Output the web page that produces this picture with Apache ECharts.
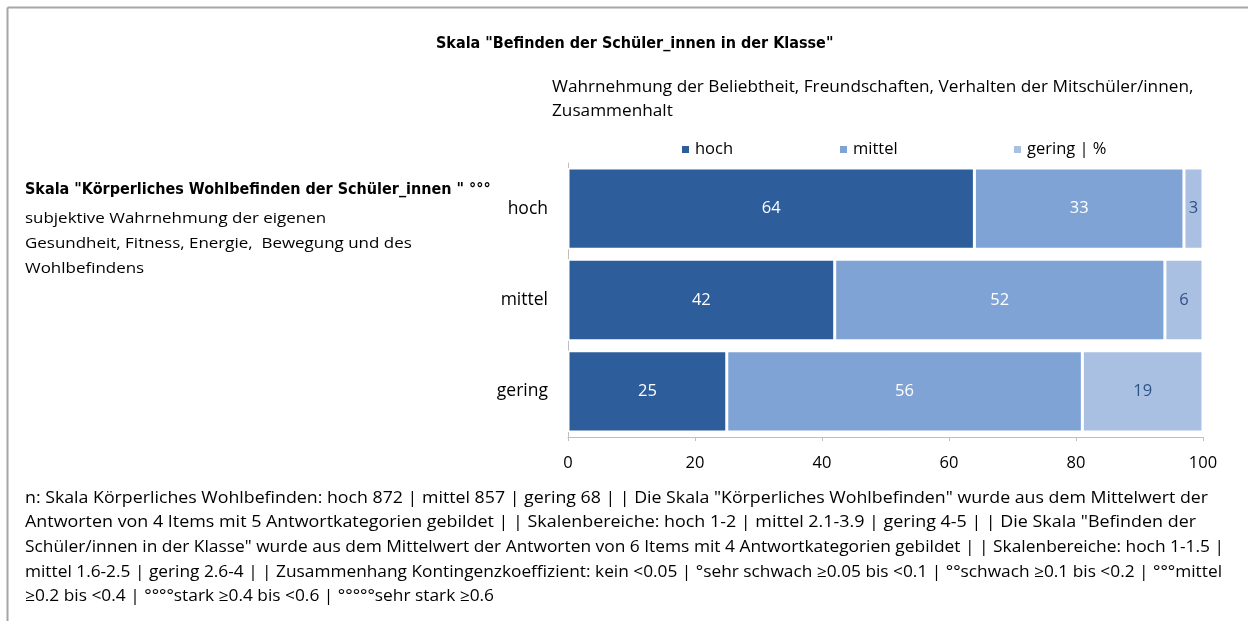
<!DOCTYPE html>
<html><head><meta charset="utf-8">
<script src="https://cdn.jsdelivr.net/npm/echarts@6/dist/echarts.min.js"></script>
<style>html,body{margin:0;padding:0;background:#fff}#c{width:1248px;height:621px}</style>
</head><body><div id="c"></div>
<script>
const categories = ['hoch', 'mittel', 'gering'];
const seriesNames = ['hoch', 'mittel', 'gering | %'];
const hochValues = [64, 42, 25];
const mittelValues = [33, 52, 56];
const geringValues = [3, 6, 19];
const xTicks = [0, 20, 40, 60, 80, 100];
const titleText = 'Skala "Befinden der Schüler_innen in der Klasse"';
const subtitleLines = ['Wahrnehmung der Beliebtheit, Freundschaften, Verhalten der Mitschüler/innen,', 'Zusammenhalt'];
const leftTitle = 'Skala "Körperliches Wohlbefinden der Schüler_innen " °°°';
const leftLines = ['subjektive Wahrnehmung der eigenen', 'Gesundheit, Fitness, Energie,  Bewegung und des', 'Wohlbefindens'];
const footerLines = [
 'n: Skala Körperliches Wohlbefinden: hoch 872 | mittel 857 | gering 68 | | Die Skala "Körperliches Wohlbefinden" wurde aus dem Mittelwert der',
 'Antworten von 4 Items mit 5 Antwortkategorien gebildet | | Skalenbereiche: hoch 1-2 | mittel 2.1-3.9 | gering 4-5 | | Die Skala "Befinden der',
 'Schüler/innen in der Klasse" wurde aus dem Mittelwert der Antworten von 6 Items mit 4 Antwortkategorien gebildet | | Skalenbereiche: hoch 1-1.5 |',
 'mittel 1.6-2.5 | gering 2.6-4 | | Zusammenhang Kontingenzkoeffizient: kein <0.05 | °sehr schwach ≥0.05 bis <0.1 | °°schwach ≥0.1 bis <0.2 | °°°mittel',
 '≥0.2 bis <0.4 | °°°°stark ≥0.4 bis <0.6 | °°°°°sehr stark ≥0.6'
];
// layout: right edges of the footer lines in the reference
const footerRight = [1208, 1196, 1224, 1222, 494];

const NARROW = '"Liberation Sans Narrow", "DejaVu Sans Condensed", sans-serif';
const FONT = 'Lato, "Open Sans", sans-serif';
const WIDE = '"Open Sans", Lato, sans-serif';
const colors = ['#2D5D9B', '#80A3D6', '#A9C0E2'];
const labelColors = ['#ffffff', '#ffffff', '#2F5286'];
const values = [hochValues, mittelValues, geringValues];
const legendLeft = [680, 838, 1012];

const measureCtx = document.createElement('canvas').getContext('2d');
function fitScale(t, font, width) {
  measureCtx.font = font;
  const w = measureCtx.measureText(t).width;
  return w > 0 ? width / w : 1;
}
function txt(t, x, y, font, sx) {
  return {type:'text', x:x, y:y, scaleX:sx||1, originX:0, style:{text:t, font:font, fill:'#000', textVerticalAlign:'middle'}};
}

const chart = echarts.init(document.getElementById('c'));
const graphic = [
  {type:'line', shape:{x1:7.5,y1:7.5,x2:1248,y2:7.5}, style:{stroke:'#a6a6a6', lineWidth:2}},
  {type:'line', shape:{x1:7.5,y1:7.5,x2:7.5,y2:621}, style:{stroke:'#a6a6a6', lineWidth:2}},
  txt(titleText, 436, 44, 'bold 16px '+NARROW),
  txt(leftTitle, 25, 190, 'bold 16px '+NARROW)
];
subtitleLines.forEach((t,i)=>graphic.push(txt(t, 552, 88+i*23.5, '15.5px '+WIDE, 1.11)));
leftLines.forEach((t,i)=>graphic.push(txt(t, 25, 219+i*25, '15px '+WIDE, 1.13)));
const footFont = '16px '+WIDE;
footerLines.forEach((t,i)=>graphic.push(txt(t, 25, 498+i*24.7, footFont, fitScale(t, footFont, footerRight[i]-25))));

chart.setOption({
  animation:false,
  textStyle:{fontFamily:FONT},
  legend: seriesNames.map((n,i)=>({top:141, left:legendLeft[i], padding:0, itemWidth:9, itemHeight:9, icon:'rect',
    textStyle:{fontSize:16.5, color:'#000', fontFamily:WIDE}, data:[n]})),
  grid:{left:568, right:45, top:163, bottom:184},
  xAxis:{type:'value', min:0, max:100, interval:20,
    axisLine:{show:true, lineStyle:{color:'#bfbfbf'}},
    axisTick:{show:true, length:4, lineStyle:{color:'#bfbfbf'}},
    splitLine:{show:false},
    axisLabel:{fontSize:16.5, color:'#000', margin:18, fontFamily:WIDE,
      formatter:v=>xTicks.includes(v)?String(v):''}},
  yAxis:{type:'category', data:categories, inverse:true,
    axisLine:{show:true, lineStyle:{color:'#bfbfbf'}},
    axisTick:{show:false},
    axisLabel:{fontSize:17.5, color:'#000', margin:20, fontFamily:WIDE}},
  series: seriesNames.map((n,i)=>({
    name:n, type:'bar', stack:'s', data:values[i], barCategoryGap:'11%',
    itemStyle:{color:colors[i], borderColor:'#fff', borderWidth:1.5},
    label:{show:true, position:'inside', color:labelColors[i], fontSize:16.5, fontFamily:WIDE}
  })),
  graphic: graphic
});
</script></body></html>
